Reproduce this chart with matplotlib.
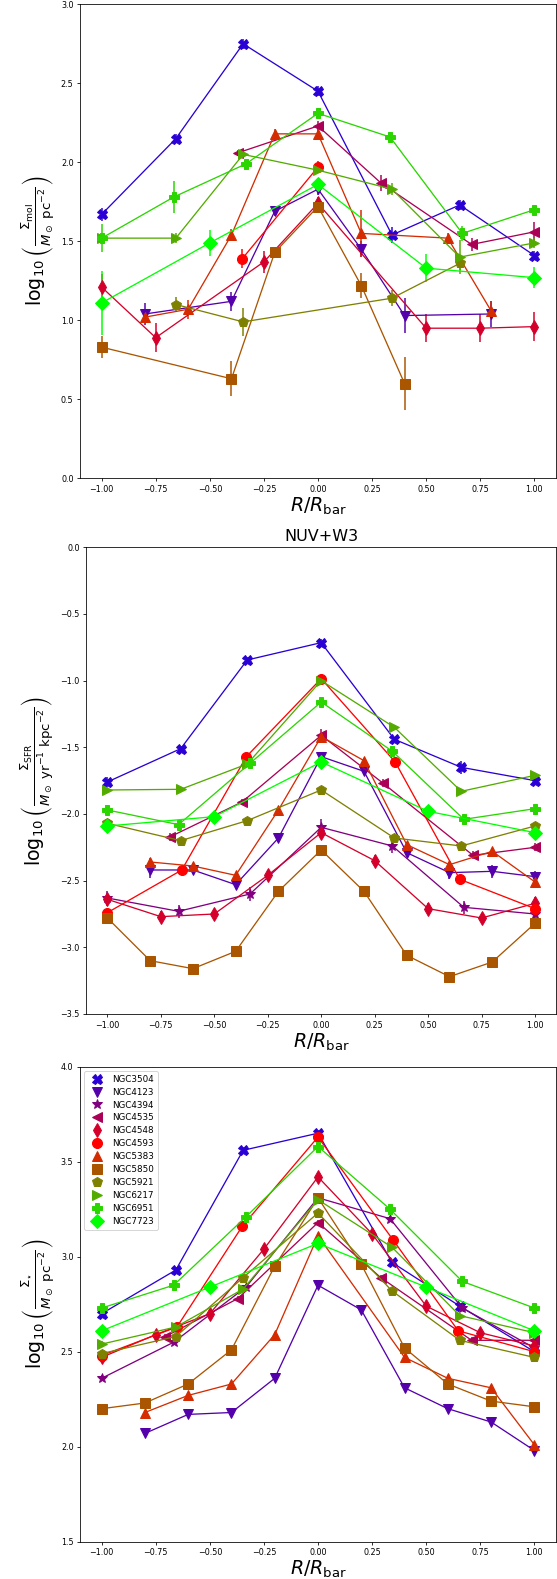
import numpy as np
import matplotlib
matplotlib.use('Agg')
import matplotlib.pyplot as plt
from matplotlib.lines import Line2D

nan = np.nan

galaxies = ['NGC3504', 'NGC4123', 'NGC4394', 'NGC4535', 'NGC4548', 'NGC4593',
            'NGC5383', 'NGC5850', 'NGC5921', 'NGC6217', 'NGC6951', 'NGC7723']
markers = ['X', 'v', '*', '<', 'd', 'o', '^', 's', 'p', '>', 'P', 'D']

# sampling positions along the bar (R/Rbar) for each galaxy
x_3504 = [-1, -0.657, -0.346, 0, 0.342, 0.655, 1]
x_4123 = [-0.8, -0.6, -0.4, -0.2, 0, 0.2, 0.4, 0.6, 0.8, 1]
x_4394 = [-1, -0.667, -0.333, 0, 0.333, 0.667, 1]
x_4535 = [-0.705, -0.37, 0, 0.29, 0.71, 1]
x_4548 = [-1, -0.75, -0.5, -0.25, 0, 0.25, 0.5, 0.75, 1]
x_4593 = [-1, -0.652, -0.35, 0, 0.346, 0.648, 1]
x_5383 = [-0.8, -0.6, -0.4, -0.2, 0, 0.2, 0.4, 0.6, 0.8, 1]
x_5850 = [-1, -0.8, -0.6, -0.4, -0.2, 0, 0.2, 0.4, 0.6, 0.8, 1]
x_5921 = [-1, -0.657, -0.346, 0, 0.342, 0.655, 1]
x_6217 = [-1, -0.657, -0.346, 0, 0.342, 0.655, 1]
x_6951 = [-1, -0.667, -0.333, 0, 0.333, 0.667, 1]
x_7723 = [-1, -0.5, 0, 0.5, 1]

# log Sigma_mol
mol_3504 = [1.67, 2.15, 2.75, 2.45, 1.54, 1.73, 1.41]
mol_4123 = [1.04, nan, 1.12, 1.69, 1.83, 1.45, 1.03, nan, 1.04, nan]
mol_4394 = [nan, nan, nan, nan, nan, nan, nan]
mol_4535 = [nan, 2.06, 2.23, 1.87, 1.48, 1.56]
mol_4548 = [1.21, 0.89, nan, 1.37, 1.74, nan, 0.95, 0.95, 0.96]
mol_4593 = [nan, nan, 1.39, 1.97, nan, nan, nan]
mol_5383 = [1.02, 1.07, 1.54, 2.18, 2.18, 1.55, nan, 1.52, 1.06, nan]
mol_5850 = [0.83, nan, nan, 0.63, 1.43, 1.72, 1.22, 0.60, nan, nan, nan]
mol_5921 = [nan, 1.10, 0.99, nan, 1.14, 1.36, nan]
mol_6217 = [1.52, 1.52, 2.05, 1.95, 1.83, 1.40, 1.49]
mol_6951 = [1.52, 1.78, 1.99, 2.31, 2.16, 1.55, 1.70]
mol_7723 = [1.11, 1.49, 1.86, 1.33, 1.27]

mol_3504_e = [0.04, 0.03, 0.03, 0.03, 0.05, 0.03, 0.03]
mol_4123_e = [0.07, 0, 0.06, 0.03, 0.04, 0.05, 0.11, 0, 0.08, 0]
mol_4394_e = [0, 0, 0, 0, 0, 0, 0]
mol_4535_e = [0, 0.02, 0.03, 0.05, 0.04, 0.06]
mol_4548_e = [0.08, 0.09, 0, 0.07, 0.04, 0, 0.09, 0.09, 0.09]
mol_4593_e = [0, 0, 0.06, 0.04, 0, 0, 0]
mol_5383_e = [0.04, 0.06, 0.04, 0.03, 0.03, 0.15, 0, 0.03, 0.06, 0]
mol_5850_e = [0.07, 0, 0, 0.11, 0.03, 0.03, 0.08, 0.17, 0, 0, 0]
mol_5921_e = [0, 0.05, 0.09, 0, 0.05, 0.04, 0]
mol_6217_e = [0.03, 0.03, 0.02, 0.02, 0.04, 0.11, 0.03]
mol_6951_e = [0.09, 0.10, 0.03, 0.03, 0.03, 0.05, 0.03]
mol_7723_e = [0.20, 0.08, 0.03, 0.09, 0.065]

# log Sigma_SFR (NUV+W3)
sfr_3504 = [-1.76, -1.51, -0.845, -0.715, -1.44, -1.65, -1.75]
sfr_4123 = [-2.42, -2.42, -2.53, -2.18, -1.57, -1.68, -2.29, -2.44, -2.43, -2.47]
sfr_4394 = [-2.63, -2.73, -2.60, -2.10, -2.24, -2.70, -2.75]
sfr_4535 = [-2.17, -1.91, -1.41, -1.77, -2.31, -2.25]
sfr_4548 = [-2.64, -2.77, -2.75, -2.46, -2.14, -2.35, -2.71, -2.78, -2.67]
sfr_4593 = [-2.74, -2.42, -1.57, -0.985, -1.61, -2.49, -2.71]
sfr_5383 = [-2.36, -2.39, -2.46, -1.97, -1.42, -1.60, -2.23, -2.38, -2.28, -2.51]
sfr_5850 = [-2.78, -3.10, -3.16, -3.03, -2.58, -2.27, -2.58, -3.06, -3.22, -3.11, -2.82]
sfr_5921 = [-2.07, -2.20, -2.05, -1.82, -2.18, -2.24, -2.09]
sfr_6217 = [-1.82, -1.815, -1.625, -1.00, -1.35, -1.83, -1.71]
sfr_6951 = [-1.97, -2.08, -1.62, -1.16, -1.53, -2.04, -1.96]
sfr_7723 = [-2.09, -2.02, -1.61, -1.98, -2.14]

sfr_3504_e = [0.04, 0.02, 0.02, 0.03, 0.02, 0.05, 0.03]
sfr_4123_e = [0.06, 0.03, 0.03, 0.03, 0.03, 0.03, 0.03, 0.05, 0.05, 0.04]
sfr_4394_e = [0.05, 0.05, 0.05, 0.06, 0.05, 0.05, 0.03]
sfr_4535_e = [0.03, 0.02, 0.05, 0.03, 0.03, 0.03]
sfr_4548_e = [0.05, 0.04, 0.04, 0.04, 0.05, 0.04, 0.04, 0.04, 0.05]
sfr_4593_e = [0.02, 0.02, 0.02, 0.03, 0.02, 0.02, 0.02]
sfr_5383_e = [0.03, 0.02, 0.02, 0.02, 0.03, 0.02, 0.02, 0.02, 0.02, 0.03]
sfr_5850_e = [0.02, 0.02, 0.02, 0.02, 0.02, 0.02, 0.02, 0.02, 0.02, 0.02, 0.02]
sfr_5921_e = [0.02, 0.02, 0.02, 0.02, 0.02, 0.02, 0.03]
sfr_6217_e = [0.02, 0.02, 0.02, 0.02, 0.02, 0.02, 0.02]
sfr_6951_e = [0.03, 0.02, 0.02, 0.02, 0.02, 0.02, 0.02]
sfr_7723_e = [0.02, 0.02, 0.02, 0.02, 0.02]

# log Sigma_star
mass_3504 = [2.70, 2.93, 3.56, 3.65, 2.97, 2.74, 2.50]
mass_4123 = [2.07, 2.17, 2.18, 2.36, 2.85, 2.72, 2.31, 2.20, 2.13, 1.98]
mass_4394 = [2.36, 2.55, 2.84, 3.31, 3.20, 2.73, 2.52]
mass_4535 = [2.58, 2.78, 3.18, 2.89, 2.56, 2.56]
mass_4548 = [2.47, 2.59, 2.70, 3.04, 3.42, 3.12, 2.74, 2.60, 2.53]
mass_4593 = [2.48, 2.63, 3.16, 3.63, 3.09, 2.61, 2.50]
mass_5383 = [2.18, 2.27, 2.33, 2.59, 3.11, nan, 2.47, 2.36, 2.31, 2.01]
mass_5850 = [2.20, 2.23, 2.33, 2.51, 2.95, 3.31, 2.96, 2.52, 2.33, 2.24, 2.21]
mass_5921 = [2.49, 2.58, 2.89, 3.23, 2.82, 2.56, 2.47]
mass_6217 = [2.54, 2.63, 2.83, 3.30, 3.05, 2.69, 2.60]
mass_6951 = [2.73, 2.85, 3.21, 3.58, 3.25, 2.87, 2.73]
mass_7723 = [2.61, 2.84, 3.07, 2.84, 2.61]

mass_err = 0.015

xs = [x_3504, x_4123, x_4394, x_4535, x_4548, x_4593,
      x_5383, x_5850, x_5921, x_6217, x_6951, x_7723]
mol = [mol_3504, mol_4123, mol_4394, mol_4535, mol_4548, mol_4593,
       mol_5383, mol_5850, mol_5921, mol_6217, mol_6951, mol_7723]
mol_e = [mol_3504_e, mol_4123_e, mol_4394_e, mol_4535_e, mol_4548_e, mol_4593_e,
         mol_5383_e, mol_5850_e, mol_5921_e, mol_6217_e, mol_6951_e, mol_7723_e]
sfr = [sfr_3504, sfr_4123, sfr_4394, sfr_4535, sfr_4548, sfr_4593,
       sfr_5383, sfr_5850, sfr_5921, sfr_6217, sfr_6951, sfr_7723]
sfr_e = [sfr_3504_e, sfr_4123_e, sfr_4394_e, sfr_4535_e, sfr_4548_e, sfr_4593_e,
         sfr_5383_e, sfr_5850_e, sfr_5921_e, sfr_6217_e, sfr_6951_e, sfr_7723_e]
mass = [mass_3504, mass_4123, mass_4394, mass_4535, mass_4548, mass_4593,
        mass_5383, mass_5850, mass_5921, mass_6217, mass_6951, mass_7723]
mass_e = [[mass_err] * len(m) for m in mass]

colors = plt.cm.brg(np.arange(1, 13) / 12.0)

W, H = 557, 1579
fig = plt.figure(figsize=(W / 72.0, H / 72.0), dpi=72)
ax1 = fig.add_axes([80 / W, 1 - 478.3 / H, 476 / W, 474 / H])
ax2 = fig.add_axes([86 / W, 1 - 1014 / H, 470.4 / W, 466.7 / H])
ax3 = fig.add_axes([80 / W, 1 - 1541.7 / H, 476 / W, 475 / H])


def draw(ax, values, errors):
    for i in range(len(galaxies)):
        x = np.array(xs[i], dtype=float)
        y = np.array(values[i], dtype=float)
        e = np.array(errors[i], dtype=float)
        ok = ~np.isnan(y)
        if not ok.any():
            continue
        ax.errorbar(x[ok], y[ok], yerr=e[ok], fmt='-' + markers[i], color=colors[i],
                    ms=10, lw=1.3, elinewidth=1.5, capsize=0)
    ax.set_xlim(-1.1, 1.1)
    ax.tick_params(labelsize=8, length=3)
    ax.set_xlabel(r'$R/R_{\rm bar}$', fontsize=19, labelpad=2)


draw(ax1, mol, mol_e)
ax1.set_ylim(0, 3)
ax1.set_ylabel(r'$\log_{10}\left(\frac{\Sigma_{\rm mol}}{M_\odot\ {\rm pc}^{-2}}\right)$', fontsize=19)

draw(ax2, sfr, sfr_e)
ax2.set_ylim(-3.5, 0)
ax2.set_title('NUV+W3', fontsize=16)
ax2.set_ylabel(r'$\log_{10}\left(\frac{\Sigma_{\rm SFR}}{M_\odot\ {\rm yr}^{-1}\ {\rm kpc}^{-2}}\right)$', fontsize=19)

draw(ax3, mass, mass_e)
ax3.set_ylim(1.5, 4)
ax3.set_ylabel(r'$\log_{10}\left(\frac{\Sigma_{\star}}{M_\odot\ {\rm pc}^{-2}}\right)$', fontsize=19)

handles = [Line2D([], [], ls='', marker=markers[i], color=colors[i], ms=10)
           for i in range(len(galaxies))]
ax3.legend(handles, galaxies, loc='upper left', fontsize=8.8, labelspacing=0.45)

fig.savefig('out.png', dpi=72)
